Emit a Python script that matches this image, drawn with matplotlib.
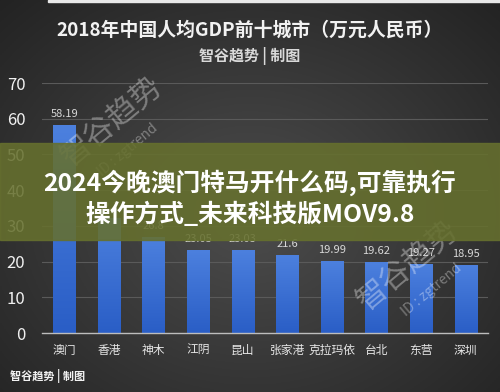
import numpy as np
import matplotlib
matplotlib.use("Agg")
import matplotlib.pyplot as plt
from matplotlib.patches import Rectangle
from matplotlib.colors import LinearSegmentedColormap

plt.rcParams['font.family'] = ['Noto Sans CJK SC', 'DejaVu Sans']

cities = ["澳门", "香港", "神木", "江阴", "昆山", "张家港", "克拉玛依", "台北", "东营", "深圳"]
values = [58.19, 32.1, 26.8, 23.05, 23.03, 21.6, 19.99, 19.62, 19.27, 18.95]
labels = ["58.19", "32.1", "26.8", "23.05", "23.03", "21.6", "19.99", "19.62", "19.27", "18.95"]
yticks = [0, 10, 20, 30, 40, 50, 60, 70]

W, H = 500, 392
fig = plt.figure(figsize=(W / 100, H / 100), dpi=100)

# background gradient
bg = fig.add_axes([0, 0, 1, 1], zorder=-10)
yy, xx = np.mgrid[0:1:200j, 0:1:250j]
r = np.sqrt(((xx - 0.5) / 0.75) ** 2 + ((yy - 0.45) / 0.8) ** 2)
shade = np.clip(0.30 - 0.17 * r, 0.12, 0.30)
img = np.dstack([shade, shade, shade])
bg.imshow(img, extent=[0, 1, 0, 1], aspect='auto', origin='lower')
bg.set_axis_off()

# top white strip
fig.add_artist(Rectangle((48 / W, 1 - 2 / H), 1, 2 / H, transform=fig.transFigure,
                         color='#e8e8e8', zorder=1))

ax = fig.add_axes([42 / W, (H - 333) / H, 446 / W, 250 / H])
ax.set_facecolor('none')
x = np.arange(len(cities))

# bars with vertical gradient
grad = np.linspace(0, 1, 100).reshape(-1, 1)
cmap = LinearSegmentedColormap.from_list('b', ['#2a5ec6', '#4c80de'])
bars = ax.bar(x, values, width=0.5, color='#3a6fd2', zorder=2)
for b in bars:
    bx, by = b.get_x(), b.get_y()
    bw, bh = b.get_width(), b.get_height()
    ax.imshow(grad, extent=[bx, bx + bw, by, by + bh], origin='lower', cmap=cmap,
              aspect='auto', zorder=2)
    b.set_alpha(0)

for xi, v, lab in zip(x, values, labels):
    ax.text(xi, v + 1.8, lab, ha='center', va='bottom', color='#d8d8d8', fontsize=8)

ax.set_xlim(-0.5, len(cities) - 0.5)
ax.set_ylim(0, 70)
ax.set_yticks(yticks)
ax.set_yticklabels([str(t) for t in yticks], color='#f0f0f0', fontsize=12)
ax.set_xticks(x)
ax.set_xticklabels(cities, color='#e6e6e6', fontsize=8.5)
ax.tick_params(axis='both', length=0)
ax.tick_params(axis='y', pad=12)
ax.tick_params(axis='x', pad=8)
ax.yaxis.grid(True, color='#5a5a5a', linewidth=0.8, zorder=0)
ax.set_axisbelow(True)
for s in ['top', 'right', 'left']:
    ax.spines[s].set_visible(False)
ax.spines['bottom'].set_color('#bdbdbd')
ax.spines['bottom'].set_linewidth(1)

# titles
fig.text(0.5, 1 - 30 / H, "2018年中国人均GDP前十城市（万元人民币）", ha='center', va='center',
         color='#f2f2f2', fontsize=13.6, fontweight='bold')
fig.text(0.5, 1 - 56 / H, "智谷趋势 | 制图", ha='center', va='center',
         color='#d9d9d9', fontsize=10.8, fontweight='bold')
fig.text(10 / W, 1 - 376 / H, "智谷趋势 | 制图", ha='left', va='center',
         color='#f2f2f2', fontsize=8, fontweight='bold')

# watermarks
for (wx, wy, ix, iy) in [(112, 122, 128, 150), (408, 266, 432, 290)]:
    fig.text(wx / W, 1 - wy / H, "智谷趋势", ha='center', va='center', rotation=40,
             color='white', alpha=0.35, fontsize=22, zorder=6)
    fig.text(ix / W, 1 - iy / H, "ID : zgtrend", ha='center', va='center',
             rotation=40, color='white', alpha=0.35, fontsize=10, zorder=6)

# banner overlay
fig.add_artist(Rectangle((0, (H - 240) / H), 1, 97 / H, transform=fig.transFigure,
                         color='#66702e', alpha=0.88, zorder=7))
fig.text(0.5, 1 - 183 / H, "2024今晚澳门特马开什么码,可靠执行", ha='center', va='center',
         color='white', fontsize=17.8, fontweight='bold', zorder=8)
fig.text(0.5, 1 - 214 / H, "操作方式_未来科技版MOV9.8", ha='center', va='center',
         color='white', fontsize=17.8, fontweight='bold', zorder=8)

fig.savefig('out.png', dpi=100)
